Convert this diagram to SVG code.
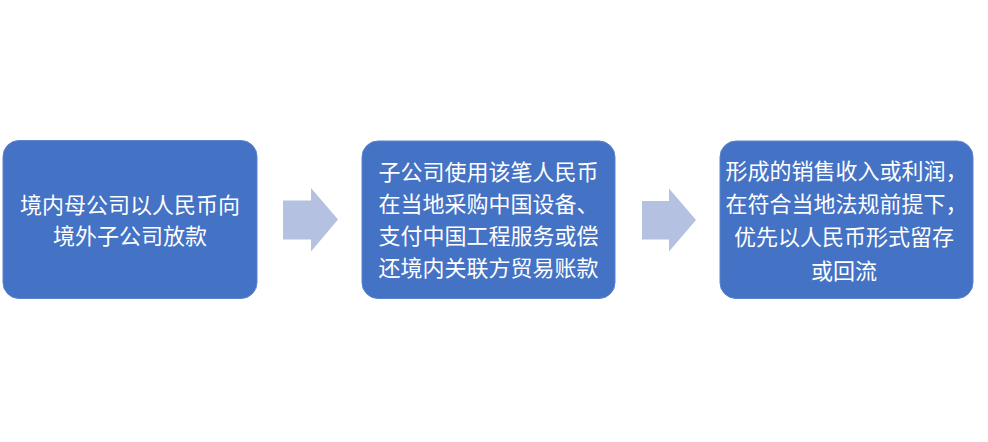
<svg xmlns="http://www.w3.org/2000/svg" width="988" height="442" viewBox="0 0 988 442">
  <defs>
    <style>
      .box { fill: #4472C4; stroke: #5B83CC; stroke-width: 1; }
      .arrow { fill: #B4C1E1; }
      .label { fill: #FFFFFF; font-family: "Microsoft YaHei", "Noto Sans CJK SC", "Noto Sans", sans-serif; font-size: 22px; text-anchor: middle; }
    </style>
  </defs>
  <rect width="988" height="442" fill="#FFFFFF"/>
  <g id="connectors">
    <polygon class="arrow" points="283,200.5 311,200.5 311,188 338,219.5 311,251.5 311,239.5 283,239.5"/>
    <polygon class="arrow" points="642,201 669,201 669,188.5 696,220 669,251.5 669,239.5 642,239.5"/>
  </g>
  <g id="node1">
    <rect class="box" x="3" y="140.5" width="254" height="158" rx="16" ry="16"/>
    <text class="label" x="130" y="213">境内母公司以人民币向</text>
    <text class="label" x="130" y="244">境外子公司放款</text>
  </g>
  <g id="node2">
    <rect class="box" x="362" y="141" width="253" height="157.5" rx="16" ry="16"/>
    <text class="label" x="488.5" y="180">子公司使用该笔人民币</text>
    <text class="label" x="488.5" y="212">在当地采购中国设备、</text>
    <text class="label" x="488.5" y="244">支付中国工程服务或偿</text>
    <text class="label" x="488.5" y="276">还境内关联方贸易账款</text>
  </g>
  <g id="node3">
    <rect class="box" x="720" y="141" width="253" height="157.5" rx="16" ry="16"/>
    <text class="label" x="846.5" y="179">形成的销售收入或利润，</text>
    <text class="label" x="846.5" y="212">在符合当地法规前提下，</text>
    <text class="label" x="844" y="245">优先以人民币形式留存</text>
    <text class="label" x="844" y="279">或回流</text>
  </g>
</svg>
